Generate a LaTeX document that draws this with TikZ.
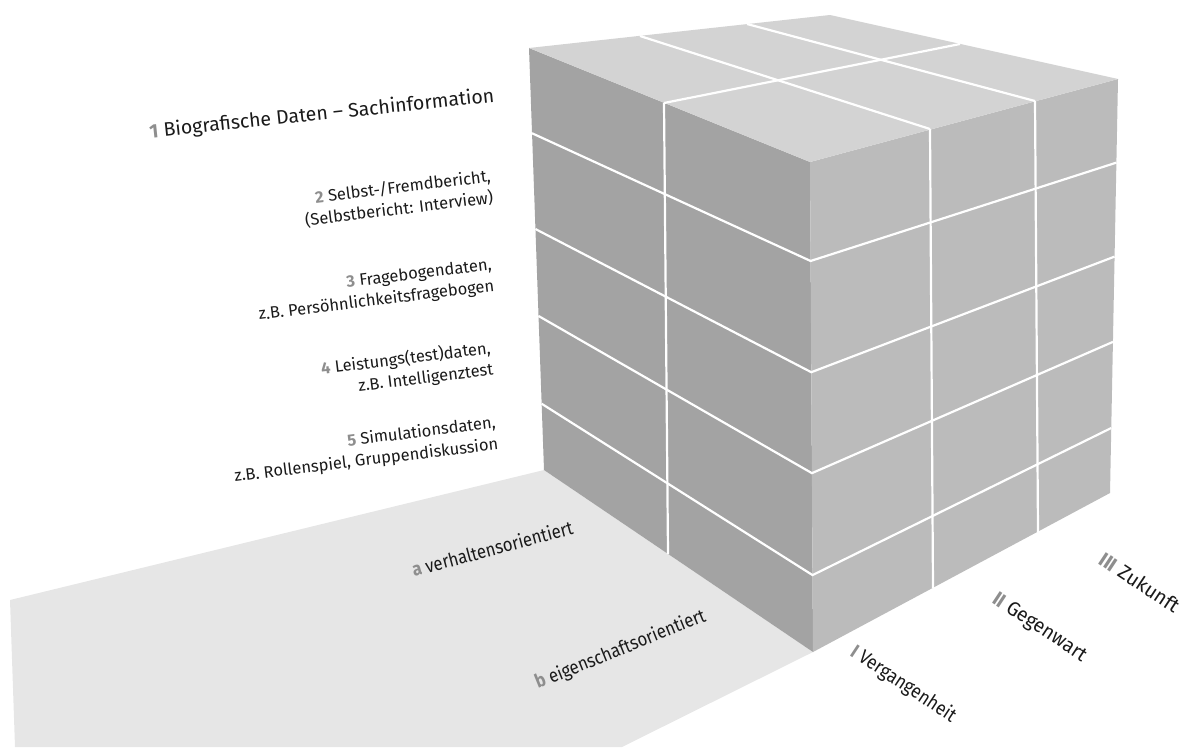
\documentclass[tikz,border=0pt]{standalone}
\usepackage{fontspec}
\setmainfont{Fira Sans}
\newfontfamily\condfont[FakeStretch=0.88]{Fira Sans}
\newfontfamily\tafont[FakeStretch=0.89]{Fira Sans}
\newfontfamily\tbfont[FakeStretch=0.96]{Fira Sans}
\newfontfamily\tcfont[FakeStretch=1.0]{Fira Sans}
\usetikzlibrary{calc}
\definecolor{topc}{HTML}{D3D3D3}
\definecolor{leftc}{HTML}{A3A3A3}
\definecolor{rightc}{HTML}{BBBBBB}
\definecolor{floorc}{HTML}{E6E6E6}
\definecolor{numc}{HTML}{8E8E8E}
\definecolor{txtc}{HTML}{1A1A1A}
\newcommand{\nm}[1]{{\color{numc}\bfseries #1}}
\begin{document}
\begin{tikzpicture}[x=1pt,y=-1pt,
  gridline/.style={white, line width=2.2pt},
  lab/.style={text=txtc, font=\fontsize{16.5}{21.5}\selectfont, inner sep=0pt, align=right, rotate=7},
  flab/.style={text=txtc, font=\condfont\fontsize{19}{21}\selectfont, inner sep=0pt, anchor=base west},
  tlab/.style={text=txtc, inner sep=0pt, anchor=base west, rotate=-33.5}]
\useasboundingbox (0,0) rectangle (1182,747);
% corners
\coordinate (LT) at (529,48);
\coordinate (BT) at (830,15);
\coordinate (RT) at (1118,79);
\coordinate (NT) at (810,162);
\coordinate (NB) at (813,652);
\coordinate (LB) at (544,470);
\coordinate (RB) at (1110,493);
% floor
\fill[floorc] (LB) -- (10,600) -- (15,747) -- (622,747) -- (NB) -- cycle;
% faces
\fill[leftc] (LT) -- (NT) -- (NB) -- (LB) -- cycle;
\fill[rightc] (NT) -- (RT) -- (RB) -- (NB) -- cycle;
\fill[topc] (LT) -- (BT) -- (RT) -- (NT) -- cycle;
% rows on left and right faces
\foreach \f in {0.202,0.429,0.635,0.843}{
  \draw[gridline] ($(LT)!\f!(LB)$) -- ($(NT)!\f!(NB)$) -- ($(RT)!\f!(RB)$);
}
% left face column
\draw[gridline] (664,103) -- (668,554);
% right face columns
\draw[gridline] (930,129) -- (933,588);
\draw[gridline] (1035,101) -- (1038,532);
% top face lines
\draw[gridline] (664,103) -- (960,44);
\draw[gridline] (930,129) -- (640,36);
\draw[gridline] (1035,101) -- (747,24);
% left labels
\node[lab, anchor=base east, rotate=-1, font=\fontsize{19.5}{23}\selectfont] (l1) at (495,102) {\nm{1} Biografische Daten – Sachinformation};
\node[lab, anchor=east] (l2) at (492,187) {\nm{2} Selbst-/Fremdbericht,\\(Selbstbericht: Interview)};
\node[lab, anchor=east] (l3) at (493,276) {\nm{3} Fragebogendaten,\\z.B. Persöhnlichkeitsfragebogen};
\node[lab, anchor=east] (l4) at (492,359) {\nm{4} Leistungs(test)daten,\\z.B. Intelligenztest};
\node[lab, anchor=east] (l5) at (497,434) {\nm{5} Simulationsdaten,\\z.B. Rollenspiel, Gruppendiskussion};
% floor labels
\node[flab, rotate=15] (fa) at (414,577) {\nm{a} verhaltensorientiert};
\node[flab, rotate=22] (fb) at (538,689) {\nm{b} eigenschaftsorientiert};
% time labels
\node[tlab, font=\tafont\fontsize{19.5}{22}\selectfont] (t1) at (849,655) {\nm{I} Vergangenheit};
\node[tlab, font=\tbfont\fontsize{20}{22}\selectfont] (t2) at (991,602) {\nm{II} Gegenwart};
\node[tlab, font=\tcfont\fontsize{20}{22}\selectfont] (t3) at (1097,563) {\nm{III} Zukunft};
\end{tikzpicture}
\end{document}
